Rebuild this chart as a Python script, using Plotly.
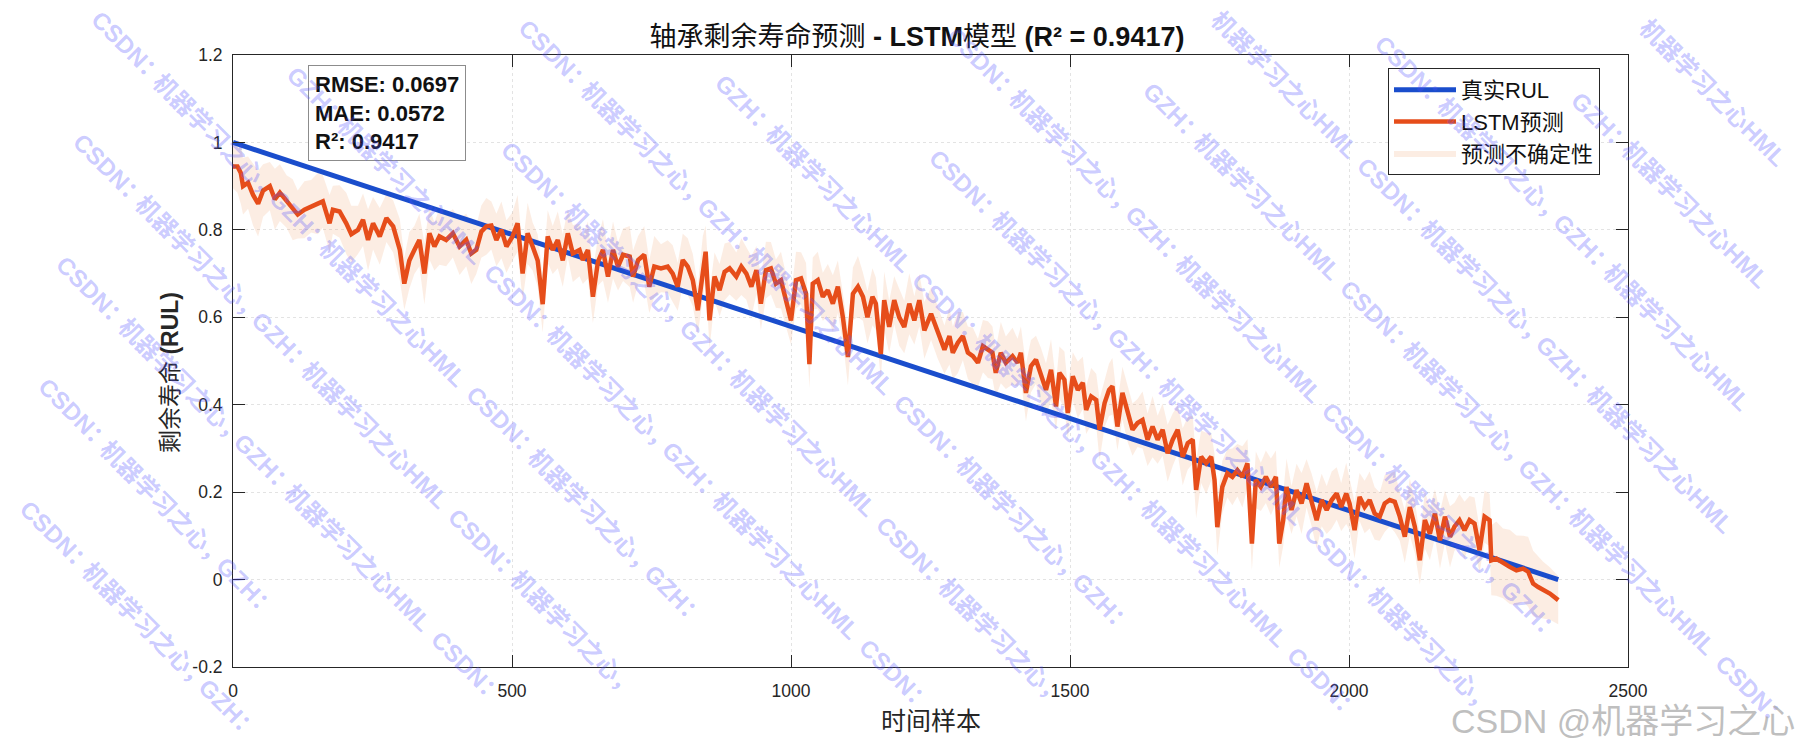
import math
import plotly.graph_objects as go

# ---------------- data ----------------
chart_title = "轴承剩余寿命预测 <b>- LSTM</b>模型 <b>(R² = 0.9417)</b>"
x_label = "时间样本"
y_label = "剩余寿命 <b>(RUL)</b>"
legend_names = ["真实RUL", "LSTM预测", "预测不确定性"]

true_x = [0, 2375]
true_rul = [1.0, 0.0]

pred_x = [
    0, 8, 14, 18, 27, 36, 45, 54, 66, 75,
    84, 96, 107, 116, 128, 140, 152, 161, 173, 179,
    191, 203, 212, 224, 233, 242, 251, 263, 275, 287,
    299, 307, 316, 325, 334, 343, 352, 361, 370, 382,
    394, 406, 418, 427, 436, 445, 454, 463, 472, 481,
    490, 501, 510, 519, 528, 537, 546, 555, 564, 573,
    582, 591, 600, 609, 621,
    627, 636, 645, 654, 663, 672, 681, 690, 699, 711,
    717, 726, 737, 746, 755, 767, 779, 788, 797, 806,
    815, 824, 833, 842, 847, 854, 863, 872, 881, 890,
    902, 911, 920, 929, 938, 946, 955, 964, 973, 982,
    991, 1000, 1009, 1018, 1027, 1033, 1039, 1048, 1057, 1066,
    1075, 1084, 1093, 1102, 1111, 1120, 1129, 1137, 1146, 1152,
    1161, 1167, 1176, 1185, 1194, 1203, 1212, 1221, 1230, 1239,
    1251,
    1263, 1275, 1284, 1290, 1299, 1308, 1317, 1326, 1335, 1344,
    1353, 1361, 1367, 1376, 1385, 1397, 1406, 1412, 1421, 1430,
    1439, 1448, 1457, 1466, 1475, 1481, 1490, 1496, 1505, 1514,
    1523, 1529, 1538, 1547, 1553, 1562, 1570, 1576, 1585, 1594,
    1603, 1612, 1621, 1630, 1639, 1648, 1657, 1666, 1675, 1684,
    1693, 1702, 1711, 1720, 1726, 1735, 1744, 1753, 1759, 1764,
    1773, 1782, 1791, 1800, 1809, 1818, 1826, 1833, 1842, 1851,
    1860, 1869, 1875,
    1882, 1888, 1897, 1906, 1915, 1924, 1933, 1942, 1951, 1960,
    1969, 1978, 1986, 1995, 2001, 2010, 2019, 2028, 2037, 2046,
    2055, 2064, 2073, 2082, 2091, 2100, 2109, 2118, 2127, 2136,
    2145, 2154, 2163, 2172, 2181, 2189, 2198, 2207, 2216, 2225,
    2234, 2243, 2252, 2255, 2264, 2276, 2288, 2300, 2312, 2321,
    2330, 2339, 2348, 2360, 2375,
]

pred_rul = [
    0.945, 0.945, 0.930, 0.900, 0.908, 0.880, 0.860, 0.890, 0.900, 0.870,
    0.885, 0.865, 0.846, 0.835, 0.846, 0.854, 0.860, 0.865, 0.815, 0.846,
    0.842, 0.815, 0.790, 0.800, 0.823, 0.777, 0.815, 0.785, 0.827, 0.808,
    0.754, 0.677, 0.730, 0.754, 0.777, 0.700, 0.792, 0.762, 0.785, 0.777,
    0.792, 0.762, 0.777, 0.746, 0.754, 0.796, 0.808, 0.810, 0.777, 0.800,
    0.762, 0.785, 0.815, 0.700, 0.792, 0.762, 0.730, 0.630, 0.785, 0.754,
    0.777, 0.730, 0.792, 0.746, 0.754,
    0.731, 0.754, 0.647, 0.727, 0.754, 0.693, 0.754, 0.716, 0.743, 0.739,
    0.693, 0.731, 0.743, 0.670, 0.716, 0.712, 0.716, 0.700, 0.670, 0.731,
    0.716, 0.685, 0.616, 0.716, 0.750, 0.593, 0.693, 0.662, 0.704, 0.712,
    0.693, 0.716, 0.700, 0.670, 0.708, 0.631, 0.708, 0.712, 0.677, 0.685,
    0.639, 0.593, 0.685, 0.689, 0.654, 0.493, 0.677, 0.685, 0.647, 0.662,
    0.631, 0.670, 0.600, 0.509, 0.654, 0.670, 0.647, 0.600, 0.647, 0.631,
    0.516, 0.639, 0.578, 0.639, 0.600, 0.578, 0.631, 0.593, 0.639, 0.570,
    0.608,
    0.565, 0.526, 0.557, 0.519, 0.542, 0.557, 0.519, 0.511, 0.496, 0.534,
    0.526, 0.519, 0.473, 0.519, 0.496, 0.511, 0.496, 0.519, 0.427, 0.488,
    0.503, 0.465, 0.434, 0.480, 0.396, 0.473, 0.457, 0.381, 0.465, 0.434,
    0.450, 0.388, 0.419, 0.411, 0.343, 0.404, 0.434, 0.442, 0.350, 0.427,
    0.381, 0.343, 0.358, 0.365, 0.320, 0.350, 0.320, 0.343, 0.289, 0.320,
    0.343, 0.281, 0.312, 0.320, 0.205, 0.281, 0.266, 0.281, 0.228, 0.120,
    0.212, 0.243, 0.235, 0.250, 0.235, 0.266, 0.082, 0.228, 0.212, 0.235,
    0.212, 0.235, 0.082,
    0.136, 0.212, 0.159, 0.205, 0.174, 0.220, 0.182, 0.136, 0.182, 0.159,
    0.182, 0.197, 0.166, 0.197, 0.174, 0.113, 0.189, 0.166, 0.182, 0.151,
    0.144, 0.174, 0.182, 0.178, 0.144, 0.098, 0.166, 0.121, 0.044, 0.136,
    0.105, 0.151, 0.090, 0.144, 0.098, 0.121, 0.136, 0.113, 0.136, 0.128,
    0.067, 0.144, 0.136, 0.044, 0.048, 0.037, 0.029, 0.021, 0.025, 0.018,
    -0.009, -0.017, -0.024, -0.032, -0.047,
]

# half-width of the uncertainty band at each prediction sample
band_hw = [
    0.050, 0.060, 0.070, 0.065, 0.060, 0.070, 0.075, 0.060, 0.055, 0.070,
    0.065, 0.060, 0.070, 0.055, 0.065, 0.060, 0.070, 0.060, 0.065, 0.055,
    0.060, 0.070, 0.065, 0.055, 0.060, 0.070, 0.060, 0.065, 0.055, 0.060,
    0.070, 0.060, 0.065, 0.055, 0.060, 0.070, 0.060, 0.055, 0.065, 0.060,
    0.055, 0.065, 0.060, 0.070, 0.055, 0.060, 0.065, 0.055, 0.060, 0.065,
    0.060, 0.055, 0.065, 0.060, 0.070, 0.055, 0.060, 0.065, 0.060, 0.055,
    0.065, 0.060, 0.055, 0.065, 0.060,
    0.055, 0.065, 0.060, 0.055, 0.070, 0.060, 0.065, 0.055, 0.060, 0.070,
    0.060, 0.055, 0.065, 0.060, 0.070, 0.055, 0.060, 0.065, 0.055, 0.060,
    0.065, 0.060, 0.055, 0.070, 0.060, 0.065, 0.055, 0.060, 0.065, 0.060,
    0.055, 0.065, 0.060, 0.070, 0.055, 0.060, 0.065, 0.060, 0.055, 0.065,
    0.060, 0.055, 0.065, 0.060, 0.070, 0.055, 0.060, 0.065, 0.055, 0.060,
    0.065, 0.060, 0.055, 0.065, 0.060, 0.070, 0.055, 0.060, 0.065, 0.060,
    0.055, 0.065, 0.060, 0.055, 0.065, 0.060, 0.070, 0.055, 0.060, 0.065,
    0.060,
    0.060, 0.055, 0.065, 0.060, 0.070, 0.055, 0.060, 0.065, 0.055, 0.060,
    0.065, 0.060, 0.055, 0.070, 0.060, 0.065, 0.055, 0.060, 0.065, 0.060,
    0.055, 0.065, 0.060, 0.070, 0.055, 0.060, 0.065, 0.060, 0.055, 0.065,
    0.060, 0.055, 0.065, 0.060, 0.070, 0.055, 0.060, 0.065, 0.055, 0.060,
    0.065, 0.060, 0.055, 0.065, 0.060, 0.070, 0.055, 0.060, 0.065, 0.060,
    0.055, 0.065, 0.060, 0.055, 0.065, 0.060, 0.070, 0.055, 0.060, 0.065,
    0.060, 0.055, 0.065, 0.060, 0.070, 0.055, 0.060, 0.065, 0.055, 0.060,
    0.065, 0.060, 0.055,
    0.060, 0.065, 0.055, 0.060, 0.070, 0.055, 0.060, 0.065, 0.060, 0.055,
    0.065, 0.060, 0.055, 0.070, 0.060, 0.065, 0.055, 0.060, 0.065, 0.060,
    0.055, 0.065, 0.060, 0.070, 0.055, 0.060, 0.065, 0.060, 0.055, 0.065,
    0.060, 0.055, 0.065, 0.060, 0.070, 0.055, 0.060, 0.065, 0.055, 0.060,
    0.050, 0.060, 0.060, 0.080, 0.085, 0.080, 0.085, 0.080, 0.075, 0.080,
    0.075, 0.070, 0.065, 0.060, 0.055,
]

metric_names = ["RMSE", "MAE", "R²"]
metric_values = ["0.0697", "0.0572", "0.9417"]

x_ticks = [0, 500, 1000, 1500, 2000, 2500]
y_ticks = [-0.2, 0, 0.2, 0.4, 0.6, 0.8, 1.0, 1.2]
y_tick_text = ["-0.2", "0", "0.2", "0.4", "0.6", "0.8", "1", "1.2"]

watermark_units = ["CSDN：", "机器学习之心，", "GZH：", "机器学习之心HML"]
corner_text = "CSDN @机器学习之心"

assert len(pred_x) == len(pred_rul) == len(band_hw)

# ---------------- styles / layout ----------------
W, H = 1800, 750
L, R, T, B = 233, 1628, 55, 667
FONT = "Liberation Sans, Arial, Noto Sans CJK SC, sans-serif"
AX = "#262626"
BLUE = "#1A4DCC"
ORANGE = "#E64D1A"


def px_x(p):
    return (p - L) / (R - L)


def px_y(p):
    return (B - p) / (B - T)


upper = [p + h for p, h in zip(pred_rul, band_hw)]
lower = [p - h for p, h in zip(pred_rul, band_hw)]

fig = go.Figure()
fig.add_trace(go.Scatter(
    x=pred_x + pred_x[::-1], y=upper + lower[::-1],
    fill="toself", fillcolor="rgba(235,150,90,0.17)",
    line=dict(width=0, color="rgba(235,150,90,0)"),
    name=legend_names[2], legendrank=3, hoverinfo="skip",
))
fig.add_trace(go.Scatter(
    x=true_x, y=true_rul, mode="lines",
    line=dict(color=BLUE, width=5), name=legend_names[0], legendrank=1,
))
fig.add_trace(go.Scatter(
    x=pred_x, y=pred_rul, mode="lines",
    line=dict(color=ORANGE, width=4.5), name=legend_names[1], legendrank=2,
))

axis_common = dict(
    showline=True, linecolor=AX, linewidth=1, mirror="ticks",
    ticks="inside", ticklen=12, tickcolor=AX, tickwidth=1,
    showgrid=True, gridcolor="#e3e3e3", griddash="dot", gridwidth=1,
    zeroline=False, tickfont=dict(family=FONT, size=17.5, color=AX),
)

fig.update_xaxes(range=[0, 2500], tickvals=x_ticks, ticklabelstandoff=8, **axis_common)
fig.update_yaxes(range=[-0.2, 1.2], tickvals=y_ticks, ticktext=y_tick_text,
                 ticklabelstandoff=6, **axis_common)

annotations = []
annotations.append(dict(text=x_label, x=0.5, y=px_y(721), xref="paper", yref="paper",
                        showarrow=False, xanchor="center", yanchor="middle",
                        font=dict(family=FONT, size=25, color=AX)))
annotations.append(dict(text=y_label, x=px_x(170), y=px_y(373), xref="paper", yref="paper",
                        showarrow=False, xanchor="center", yanchor="middle", textangle=-90,
                        font=dict(family=FONT, size=23, color=AX)))
metric_lines = "<br>".join(f"<b>{n}: {v}</b>" for n, v in zip(metric_names, metric_values))
annotations.append(dict(text=metric_lines, x=px_x(308), y=px_y(65), xref="paper", yref="paper",
                        showarrow=False, xanchor="left", yanchor="top", align="left",
                        bgcolor="white", bordercolor="#8c8c8c", borderwidth=1, borderpad=6,
                        font=dict(family=FONT, size=22, color="#111111")))


# ---- diagonal watermark, laid out piece by piece so that nothing is cut ----
WM_FS = 24
SQ2 = math.sqrt(2)


def text_w(s, fs):
    w = 0.0
    for ch in s:
        if ord(ch) > 0x2E80:
            w += 0.95
        elif ch.isupper():
            w += 0.70
        else:
            w += 0.50
    return w * fs


unit_w = [text_w(u, WM_FS) for u in watermark_units]
unit_gap = [0.05 * WM_FS, 0.05 * WM_FS, 0.05 * WM_FS, 0.7 * WM_FS]
period = sum(unit_w) + sum(unit_gap)
for i, c in enumerate(range(-760, 1800, 140)):
    d = -((i * 173) % period)
    k = 0
    while d < 1200:
        w = unit_w[k % 4]
        dc = d + w / 2
        cx, cy = c + dc / SQ2, dc / SQ2
        half = (w / 2 + WM_FS * 0.6) / SQ2
        if cx - half > 1 and cx + half < W - 1 and cy - half > 1 and cy + half < H - 1:
            annotations.append(dict(
                text=watermark_units[k % 4], x=px_x(cx), y=px_y(cy),
                xref="paper", yref="paper", showarrow=False,
                xanchor="center", yanchor="middle", textangle=45,
                font=dict(family=FONT, size=WM_FS, color="rgba(80,80,255,0.30)",
                          weight="bold")))
        d += w + unit_gap[k % 4]
        k += 1

annotations.append(dict(text=corner_text, x=px_x(1449), y=px_y(721), xref="paper", yref="paper",
                        showarrow=False, xanchor="left", yanchor="middle",
                        font=dict(family=FONT, size=34, color="rgba(170,170,170,0.75)")))

fig.update_layout(
    width=W, height=H,
    margin=dict(l=L, r=W - R, t=T, b=H - B, autoexpand=False),
    paper_bgcolor="white", plot_bgcolor="white",
    title=dict(text=chart_title, x=917 / W, xanchor="center",
               y=1 - 37 / H, yanchor="middle", yref="container",
               font=dict(family=FONT, size=27, color="#111111")),
    legend=dict(x=px_x(1600), y=px_y(68), xanchor="right", yanchor="top",
                bgcolor="white", bordercolor=AX, borderwidth=1,
                font=dict(family=FONT, size=22, color="#111111"),
                itemwidth=62, tracegroupgap=0),
    annotations=annotations,
    showlegend=True,
)

fig.write_html("out.html")
